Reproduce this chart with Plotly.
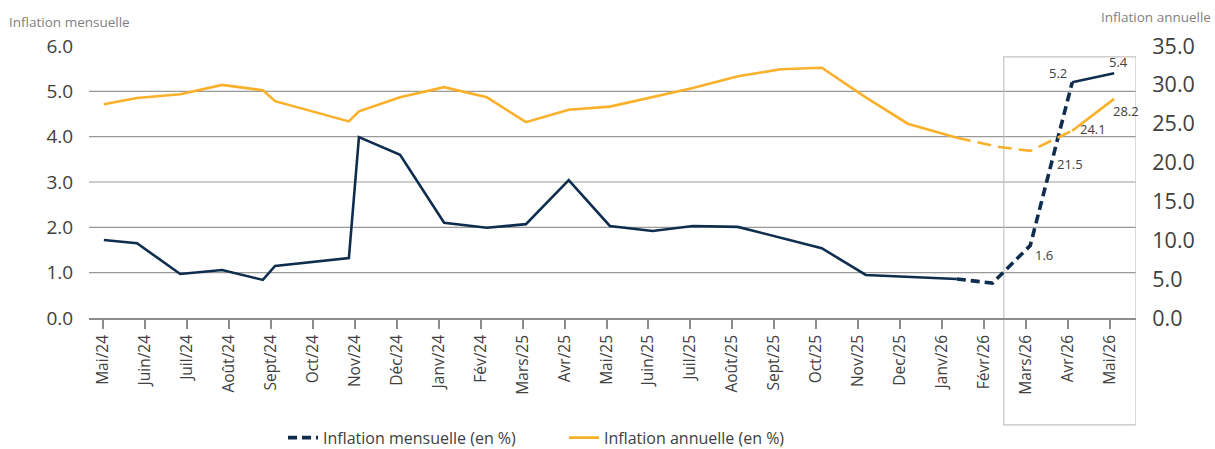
import plotly.graph_objects as go

# ---- Data ----
mois = ["Mai/24", "Juin/24", "Juil/24", "Août/24", "Sept/24", "Oct/24", "Nov/24", "Déc/24",
        "Janv/24", "Fév/24", "Mars/25", "Avr/25", "Mai/25", "Juin/25", "Juil/25", "Août/25",
        "Sept/25", "Oct/25", "Nov/25", "Dec/25", "Janv/26", "Févr/26", "Mars/26", "Avr/26", "Mai/26"]

# time position in months since Mai/24
t_mensuelle = [0.02, 0.81, 1.84, 2.84, 3.81, 4.10, 5.86, 6.10, 7.08, 8.13, 9.15, 10.08,
               11.10, 12.08, 13.10, 14.06, 15.13, 17.13, 18.18, 20.35, 21.20, 22.10, 23.10, 24.10]
inflation_mensuelle = [1.72, 1.65, 0.97, 1.06, 0.84, 1.15, 1.32, 3.99, 3.60, 2.10, 1.99, 2.07,
                       3.04, 2.03, 1.92, 2.03, 2.01, 1.54, 0.95, 0.86, 0.77, 1.6, 5.2, 5.4]

t_annuelle = [0.02, 0.81, 1.84, 2.84, 3.81, 4.10, 5.86, 6.10, 7.08, 8.13, 9.15, 10.08,
              11.10, 12.08, 14.06, 15.13, 16.15, 17.13, 18.18, 19.18, 20.35, 21.37, 22.10, 23.10, 24.10]
inflation_annuelle = [27.5, 28.3, 28.8, 30.0, 29.3, 27.9, 25.3, 26.6, 28.4, 29.7, 28.4, 25.2,
                      26.8, 27.2, 29.6, 31.1, 32.0, 32.2, 28.4, 25.0, 23.2, 22.0, 21.5, 24.1, 28.2]

navy = "#0f2d4e"
orange = "#fbb02a"
txt = "#404040"
font_family = "Open Sans, Noto Sans, sans-serif"

def last_index_before(t, cut):
    return max(i for i, v in enumerate(t) if v < cut)

fig = go.Figure()

# Monthly series: solid until Janv/26, dashed until Avr/26, solid afterwards
nm = len(t_mensuelle)
a = last_index_before(t_mensuelle, 20.5)
b = last_index_before(t_mensuelle, 24)
fig.add_trace(go.Scatter(x=t_mensuelle[:a + 1], y=inflation_mensuelle[:a + 1], mode="lines",
                         line=dict(color=navy, width=2.6), showlegend=False, hoverinfo="skip"))
fig.add_trace(go.Scatter(x=t_mensuelle[a:b + 1], y=inflation_mensuelle[a:b + 1], mode="lines",
                         line=dict(color=navy, width=3.6, dash="9px,5px"),
                         name="Inflation mensuelle (en %)", showlegend=True))
fig.add_trace(go.Scatter(x=t_mensuelle[b:], y=inflation_mensuelle[b:], mode="lines",
                         line=dict(color=navy, width=2.6), showlegend=False, hoverinfo="skip"))

# Annual series
a2 = last_index_before(t_annuelle, 20.5)
b2 = last_index_before(t_annuelle, 24)
fig.add_trace(go.Scatter(x=t_annuelle[:a2 + 1], y=inflation_annuelle[:a2 + 1], mode="lines",
                         line=dict(color=orange, width=2.6), yaxis="y2",
                         name="Inflation annuelle (en %)", showlegend=True))
fig.add_trace(go.Scatter(x=t_annuelle[a2:b2 + 1], y=inflation_annuelle[a2:b2 + 1], mode="lines",
                         line=dict(color=orange, width=2.6, dash="14px,7px"), yaxis="y2",
                         showlegend=False, hoverinfo="skip"))
fig.add_trace(go.Scatter(x=t_annuelle[b2:], y=inflation_annuelle[b2:], mode="lines",
                         line=dict(color=orange, width=2.6), yaxis="y2",
                         showlegend=False, hoverinfo="skip"))

annotations = []
lab_font = dict(family=font_family, size=13, color=txt)
# Monthly labels (last three points)
for k, (xs, ys, xa) in zip(range(nm - 3, nm), [(3, -10, "left"), (-3, 9, "right"), (4, 11, "center")]):
    annotations.append(dict(x=t_mensuelle[k], y=inflation_mensuelle[k], xref="x", yref="y",
                            text=f"{inflation_mensuelle[k]:.1f}", showarrow=False, xanchor=xa,
                            xshift=xs, yshift=ys, font=lab_font))
na = len(t_annuelle)
for k, (xs, ys, xa) in zip(range(na - 3, na), [(25, -13, "left"), (6, 2, "left"), (-3, -12, "left")]):
    annotations.append(dict(x=t_annuelle[k], y=inflation_annuelle[k], xref="x", yref="y2",
                            text=f"{inflation_annuelle[k]:.1f}", showarrow=False, xanchor=xa,
                            xshift=xs, yshift=ys, font=lab_font))

annotations.append(dict(text="Inflation mensuelle", xref="paper", yref="paper", x=-0.078, y=1.088,
                        xanchor="left", yanchor="middle", showarrow=False,
                        font=dict(family=font_family, size=13.5, color="#7f7f7f")))
annotations.append(dict(text="Inflation annuelle", xref="paper", yref="paper", x=1.0735, y=1.107,
                        xanchor="right", yanchor="middle", showarrow=False,
                        font=dict(family=font_family, size=13.5, color="#7f7f7f")))

fig.update_layout(
    width=1215, height=449,
    margin=dict(l=89, r=79, t=46, b=131, autoexpand=False),
    paper_bgcolor="white", plot_bgcolor="white",
    font=dict(family=font_family, color=txt),
    xaxis=dict(range=[-0.334, 24.62], tickmode="array", tickvals=list(range(len(mois))),
               ticktext=mois, tickangle=-90, tickfont=dict(size=15.5, color=txt),
               showgrid=False, zeroline=False, showline=True, linecolor="#8c8c8c", linewidth=1.5,
               ticks="outside", ticklen=9, tickcolor="#8c8c8c", tickwidth=1.5, automargin=False),
    yaxis=dict(range=[0, 6], tickvals=[0, 1, 2, 3, 4, 5, 6],
               ticktext=["0.0", "1.0", "2.0", "3.0", "4.0", "5.0", "6.0"],
               tickfont=dict(size=19, color=txt), showgrid=False, zeroline=False,
               showline=False, ticks="outside", ticklen=11, tickcolor="rgba(0,0,0,0)", automargin=False),
    yaxis2=dict(range=[0, 35], overlaying="y", side="right", tickvals=[0, 5, 10, 15, 20, 25, 30, 35],
                ticktext=["0.0", "5.0", "10.0", "15.0", "20.0", "25.0", "30.0", "35.0"],
                tickfont=dict(size=21.5, color=txt), showgrid=False, zeroline=False,
                showline=False, ticks="outside", ticklen=11, tickcolor="rgba(0,0,0,0)", automargin=False),
    legend=dict(orientation="h", x=0.1853, y=-0.44, xanchor="left", yanchor="middle",
                entrywidth=236, entrywidthmode="pixels",
                font=dict(size=16, color=txt), bgcolor="rgba(0,0,0,0)", traceorder="normal"),
    annotations=annotations,
    showlegend=True,
)

# horizontal gridlines on the left axis (1..5)
shapes = []
for v in [1, 2, 3, 4, 5]:
    shapes.append(dict(type="line", xref="paper", yref="y", x0=0, x1=1, y0=v, y1=v,
                       line=dict(color="#999999", width=1.2), layer="below"))
# framing box around the last months
shapes.append(dict(type="rect", xref="x", yref="paper", x0=21.47, x1=24.62, y0=-0.393, y1=0.96,
                   line=dict(color="#c4c4c4", width=1.2), fillcolor="rgba(0,0,0,0)", layer="below"))
fig.update_layout(shapes=shapes)

fig.write_html("out.html", config={"displayModeBar": False},
               post_script="document.body.style.margin='0';document.body.style.overflow='hidden';")
